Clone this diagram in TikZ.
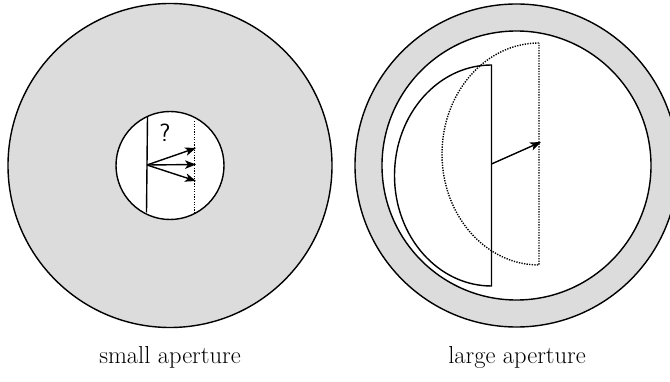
\documentclass[tikz,border=0pt]{standalone}
\usepackage{fontspec}
\usetikzlibrary{arrows.meta}
\definecolor{ringgray}{RGB}{220,220,220}
\tikzset{
  outline/.style={draw=black, line width=1.4pt},
  vec/.style={line width=1.4pt, -{Stealth[length=11pt, width=8.5pt, inset=3pt]}},
  ghost/.style={draw=black, line width=1.4pt, dash pattern=on 1.3pt off 1.3pt},
  caption/.style={font=\fontsize{24.5}{29}\selectfont, anchor=base, inner sep=0pt},
}
\begin{document}
\begin{tikzpicture}[x=1pt, y=-1pt]
\useasboundingbox (0,0) rectangle (670,382);
\clip (0,0) rectangle (670,382);
% ---------- left: small aperture ----------
\coordinate (Lc) at (170,165.5);
\fill[ringgray] (Lc) circle[radius=162pt];
\draw[outline] (Lc) circle[radius=162pt];
\fill[white] (Lc) circle[radius=54pt];
\draw[outline] (Lc) circle[radius=54pt];
\coordinate (st) at (147.5,117);
\coordinate (sb) at (146.5,212.5);
\coordinate (dt) at (194.5,121);
\coordinate (db) at (194.5,213);
\draw[outline] (st) -- (sb);
\draw[ghost] (dt) -- (db);
\coordinate (so) at (147,165);
\coordinate (e1) at (196,148);
\coordinate (e2) at (196,164.5);
\coordinate (e3) at (196,181);
\draw[vec] (so) -- (e1);
\draw[vec] (so) -- (e2);
\draw[vec] (so) -- (e3);
\node[font=\sffamily\fontsize{25}{30}\selectfont, inner sep=0pt] (q) at (165,133) {?};
% ---------- right: large aperture ----------
\coordinate (Rc) at (516.5,165.5);
\fill[ringgray] (Rc) circle[radius=161.5pt];
\draw[outline] (Rc) circle[radius=161.5pt];
\fill[white] (Rc) circle[radius=134.5pt];
\draw[outline] (Rc) circle[radius=134.5pt];
\coordinate (ht) at (491.5,65);
\coordinate (gt) at (539,43);
\draw[ghost] (gt) arc[start angle=90, end angle=270, x radius=97pt, y radius=111pt] -- cycle;
\draw[outline, line join=miter] (ht) arc[start angle=90, end angle=270, x radius=97pt, y radius=110.5pt] -- cycle;
\coordinate (ho) at (491.5,164);
\coordinate (ge) at (541,142);
\draw[vec] (ho) -- (ge);
% ---------- captions ----------
\node[caption] (capL) at (170,363) {small aperture};
\node[caption] (capR) at (517,363) {large aperture};
\end{tikzpicture}
\end{document}
